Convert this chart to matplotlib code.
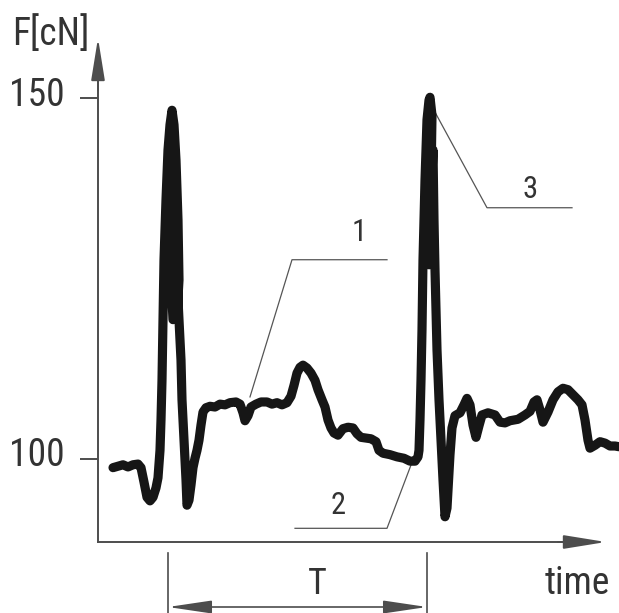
import matplotlib
matplotlib.use("Agg")
import matplotlib.pyplot as plt
from matplotlib import font_manager
from matplotlib.transforms import ScaledTranslation
import numpy as np

# ---------------- data (time in ms, force in cN) ----------------
t_start = [15, 20, 25, 30, 35, 40, 43, 46, 49, 52]
f_start = [98.8, 99.0, 99.2, 98.9, 99.2, 99.3, 98.8, 96.8, 94.7, 94.2]

t_pulse1 = [55, 58, 60, 62, 63, 64, 65, 66, 68, 70, 72, 74, 76, 78, 80, 81, 79, 75, 73, 73,
            74, 77, 79, 81, 83, 84, 86, 88, 89]
f_pulse1 = [94.7, 96.0, 97.4, 101.2, 105.4, 110.9, 119.3, 127.6, 135.9, 142.8,
            146.3, 148.3, 146.3, 141.4, 133.1, 124.8, 119.9, 119.3, 124.8, 133.1,
            140.0, 131.7, 124.8, 119.3, 113.7, 108.2, 102.6, 97.1, 93.6]

t_plateau1 = [91, 93, 95, 97, 99, 101, 103, 105, 108, 112, 117, 122, 127, 132, 138, 142, 145, 147,
              150, 153, 158, 163, 169, 174, 179, 184, 189, 193, 196, 199, 202, 205, 209, 213, 217,
              220, 224, 227, 230, 233, 236, 240, 245, 250, 255, 259, 263, 268, 273, 278, 281, 285,
              292, 299, 306, 312, 317, 320]
f_plateau1 = [94.3, 96.4, 98.8, 100.1, 101.2, 102.6, 104.7, 106.5, 107.1, 107.3,
              107.2, 107.6, 107.5, 107.8, 107.9, 107.6, 106.4, 105.3, 106.0, 107.2,
              107.6, 107.9, 107.9, 107.6, 107.8, 107.5, 107.8, 108.7, 110.2, 111.9,
              112.7, 113.0, 112.6, 111.9, 110.9, 109.6, 108.2, 107.2, 105.4, 104.3,
              103.6, 103.3, 104.2, 104.4, 104.3, 103.5, 103.0, 102.9, 102.8, 102.4,
              101.2, 100.8, 100.6, 100.3, 100.1, 99.7, 99.7, 100.3]

t_pulse2 = [321, 322, 323, 324, 325, 327, 329, 331, 332, 334, 333, 331, 333, 335, 336, 337, 338,
            339, 341, 343, 345, 347]
f_pulse2 = [101.2, 105.4, 110.9, 117.9, 127.6, 138.6, 147.0, 149.7, 150.1, 147.6,
            138.6, 126.9, 135.9, 142.8, 133.1, 126.2, 120.6, 115.1, 108.2, 102.6,
            97.1, 92.0]

t_plateau2 = [349, 350, 352, 354, 357, 362, 366, 369, 372, 375, 378, 381, 384, 390, 397, 402, 407,
              412, 420, 427, 432, 436, 439, 442, 445, 450, 455, 460, 465, 470, 475, 480, 484, 487,
              490, 492, 497, 502, 507, 512, 517, 521]
f_plateau2 = [93.2, 95.7, 100.6, 104.3, 106.0, 106.4, 107.5, 108.4, 107.5, 104.7,
              103.0, 104.6, 106.1, 106.4, 106.1, 105.1, 105.0, 105.3, 105.5, 106.1,
              106.6, 107.9, 108.2, 106.8, 105.1, 106.5, 108.2, 109.3, 109.8, 109.6,
              108.9, 108.2, 107.5, 105.4, 102.6, 101.5, 101.9, 102.4, 102.2, 101.8,
              101.8, 101.7]

y_ticks = [100, 150]
y_ticklabels = ["100", "150"]
period_marks = [70, 329]          # start / end of period T (ms)

# leader lines for labels 1, 2, 3 (t, F)
leader1_t = [152, 194, 289]; leader1_f = [108.6, 127.6, 127.6]
leader2_t = [315, 289, 197]; leader2_f = [99.9, 90.4, 90.4]
leader3_t = [334, 389, 474]; leader3_f = [148.8, 134.8, 134.8]
labels = ["1", "2", "3"]
label_t = [261, 240, 432]
label_f = [131.4, 93.5, 137.3]

# ---------------- font ----------------
names = {f.name for f in font_manager.fontManager.ttflist}
family = "DejaVu Sans"
for cand in ["Liberation Sans Narrow", "Roboto Condensed", "Open Sans Condensed",
             "Liberation Sans", "Roboto"]:
    if cand in names:
        family = cand
        break
plt.rcParams["font.family"] = [family, "DejaVu Sans"]

TXT = "#333333"
AX = "#4d4d4d"
CURVE = "#161616"

W, H = 619, 613
fig = plt.figure(figsize=(W / 100, H / 100), dpi=100)
fig.patch.set_facecolor("white")

def F(py):
    return 100 + (459 - py) * 50 / 361

ax = fig.add_axes([98 / W, (H - 542) / H, (W - 98) / W, 542 / H])
ax.set_xlim(0, 521)
ax.set_ylim(F(542), F(0))
ax.patch.set_alpha(0)

t = np.concatenate([t_start, t_pulse1, t_plateau1, t_pulse2, t_plateau2])
f = np.concatenate([f_start, f_pulse1, f_plateau1, f_pulse2, f_plateau2])
ax.plot(t, f, color=CURVE, lw=6.6, solid_joinstyle="round", solid_capstyle="round",
        clip_on=False, zorder=3)

# spines
for s in ["top", "right"]:
    ax.spines[s].set_visible(False)
for s in ["left", "bottom"]:
    ax.spines[s].set_color(AX)
    ax.spines[s].set_linewidth(1.4)
ax.spines["left"].set_bounds(F(542), F(60))
ax.spines["bottom"].set_bounds(0, 490)

ax.set_xticks([])
ax.set_yticks(y_ticks)
ax.set_yticklabels(y_ticklabels)
ax.tick_params(axis="y", direction="out", length=13, width=1.4, color=AX, pad=11,
               labelsize=27, labelcolor=TXT)
for lab in ax.get_yticklabels():
    lab.set_transform(lab.get_transform() + ScaledTranslation(0, 7 / 100, fig.dpi_scale_trans))

# axis arrows
ax.annotate("", xy=(0, F(38)), xytext=(0, F(90)),
            arrowprops=dict(arrowstyle="-|>,head_length=2.6,head_width=0.42", mutation_scale=10,
                            lw=1.4, color=AX, shrinkA=0, shrinkB=0), annotation_clip=False)
ax.annotate("", xy=(508, F(542)), xytext=(460, F(542)),
            arrowprops=dict(arrowstyle="-|>,head_length=2.6,head_width=0.42", mutation_scale=10,
                            lw=1.4, color=AX, shrinkA=0, shrinkB=0), annotation_clip=False)

# period T
for pm in period_marks:
    ax.plot([pm, pm], [F(553), F(613)], color=AX, lw=1.2, clip_on=False)
ax.annotate("", xy=(period_marks[0], F(607)), xytext=(period_marks[1], F(607)),
            arrowprops=dict(arrowstyle="<|-|>,head_length=2.7,head_width=0.4", mutation_scale=10,
                            lw=1.2, color=AX, shrinkA=0, shrinkB=0), annotation_clip=False)
ax.text(219, F(584), "T", fontsize=26, color=TXT, ha="center", va="center", clip_on=False)
ax.text(479, F(583), "time", fontsize=27, color=TXT, ha="center", va="center", clip_on=False)

# leaders
for lt, lf in [(leader1_t, leader1_f), (leader2_t, leader2_f), (leader3_t, leader3_f)]:
    ax.plot(lt, lf, color="#555555", lw=0.9, clip_on=False, zorder=2)
for s, lt, lf in zip(labels, label_t, label_f):
    ax.text(lt, lf, s, fontsize=22, color=TXT, ha="center", va="center")

fig.text(51 / W, 1 - 34 / H, "F[cN]", fontsize=27, color=TXT, ha="center", va="center")

fig.savefig("out.png", dpi=100, facecolor="white")
